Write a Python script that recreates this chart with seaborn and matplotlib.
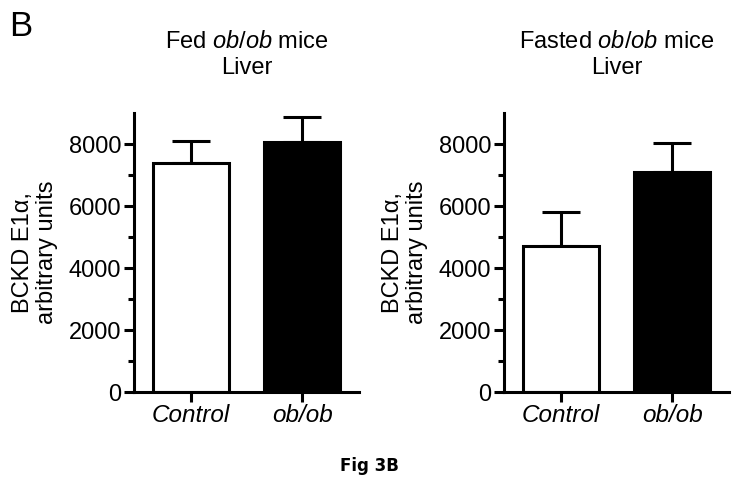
import pandas as pd
import numpy as np
import matplotlib.pyplot as plt
import seaborn as sns

groups = ["Control", "ob/ob"]
fed_means = [7390, 8060]
fed_sem = [710, 820]
fasted_means = [4720, 7110]
fasted_sem = [1090, 930]
titles = ["Fed $\\it{ob/ob}$ mice\nLiver", "Fasted $\\it{ob/ob}$ mice\nLiver"]

sns.set_style("ticks")
plt.rcParams['font.family'] = ['Liberation Sans', 'DejaVu Sans']
plt.rcParams['mathtext.fontset'] = 'custom'
plt.rcParams['mathtext.it'] = 'Liberation Sans:italic'
plt.rcParams['mathtext.rm'] = 'Liberation Sans'
plt.rcParams['text.color'] = 'black'
plt.rcParams['axes.labelcolor'] = 'black'
plt.rcParams['xtick.color'] = 'black'
plt.rcParams['ytick.color'] = 'black'
plt.rcParams['axes.edgecolor'] = 'black'

fig = plt.figure(figsize=(7.39, 4.86), dpi=100)
ax1 = fig.add_axes([0.1813, 0.193, 0.3045, 0.5741])
ax2 = fig.add_axes([0.682, 0.193, 0.3045, 0.5741])

lw = 2.2
for ax, means, sem, title in [(ax1, fed_means, fed_sem, titles[0]),
                              (ax2, fasted_means, fasted_sem, titles[1])]:
    df = pd.DataFrame({"group": groups, "value": means})
    ax.errorbar(x=[0, 1], y=means, yerr=[[0, 0], sem], fmt="none",
                ecolor="black", elinewidth=lw, capsize=13.5, capthick=lw, zorder=1)
    sns.barplot(data=df, x="group", y="value", hue="group",
                palette=["white", "black"], edgecolor="black", linewidth=lw,
                width=0.68, errorbar=None, legend=False, ax=ax, zorder=2)
    ax.set_xlim(-0.51, 1.51)
    ax.set_ylim(0, 9000)
    ax.set_yticks([0, 2000, 4000, 6000, 8000])
    ax.set_yticks([1000, 3000, 5000, 7000], minor=True)
    ax.tick_params(axis="both", which="major", length=7, width=lw, labelsize=17)
    ax.tick_params(axis="x", pad=1.5)
    ax.tick_params(axis="y", pad=2)
    ax.tick_params(axis="y", which="minor", length=4, width=lw)
    ax.set_xticks([0, 1])
    ax.set_xticklabels(groups, fontstyle="italic", fontsize=17.5)
    ax.set_xlabel("")
    ax.set_ylabel("BCKD E1α,\narbitrary units", fontsize=17, labelpad=8,
                  linespacing=1.1)
    ax.set_title(title, fontsize=17, pad=28, linespacing=1.25)
    sns.despine(ax=ax)
    for s in ["left", "bottom"]:
        ax.spines[s].set_linewidth(lw)

fig.text(0.013, 0.925, "B", fontsize=25)
fig.text(0.5, 0.03, "Fig 3B", fontsize=12, fontweight="bold",
         family="DejaVu Sans", ha="center")

plt.savefig("out.png", dpi=100)
